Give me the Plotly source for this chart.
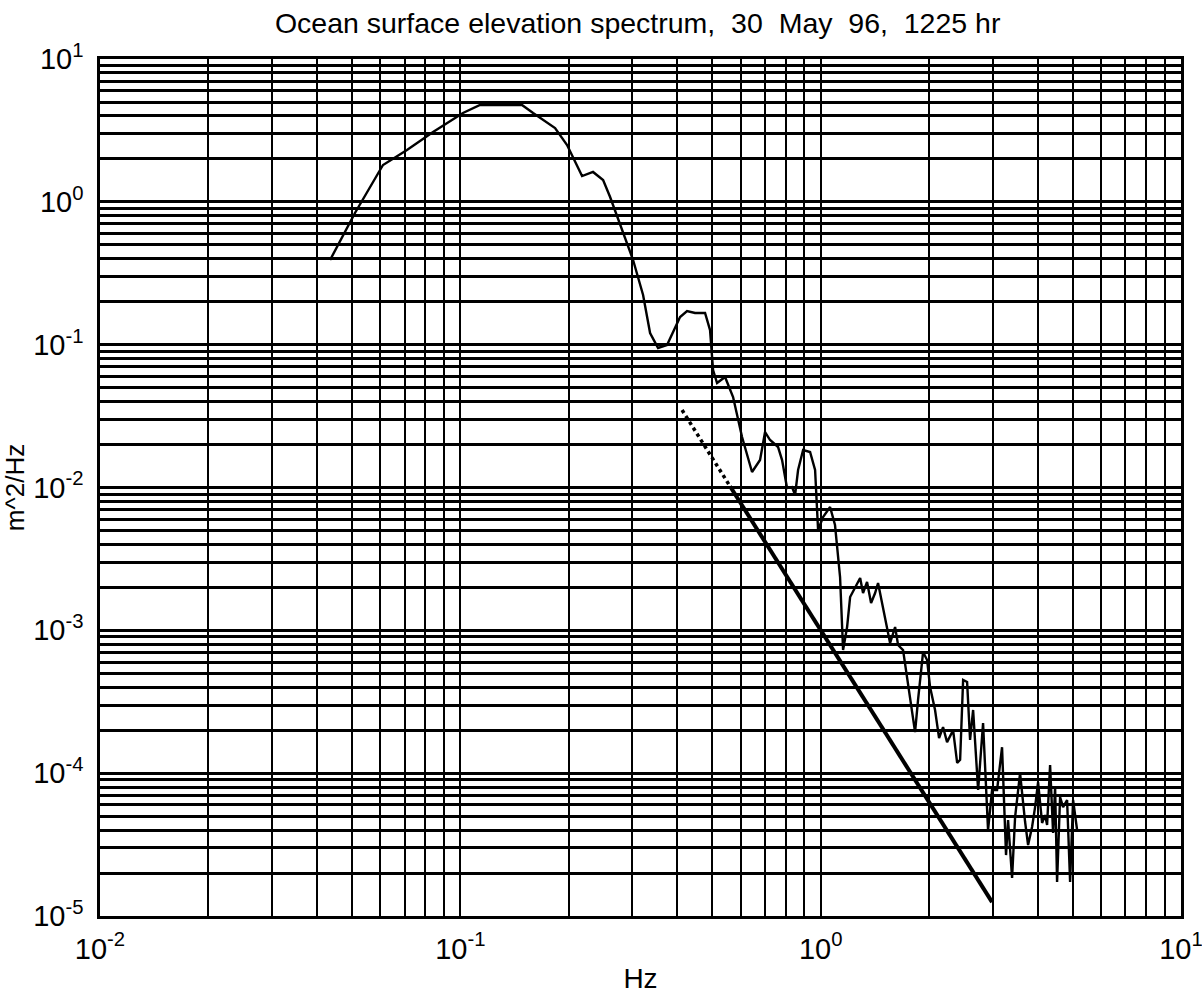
import plotly.graph_objects as go

# Measured surface elevation spectrum (frequency in Hz, density in m^2/Hz)
freq_hz = [
    0.0435, 0.0510, 0.0610, 0.0711, 0.0840, 0.1017, 0.1134, 0.1483, 0.1592, 0.1832,
    0.1978, 0.2055, 0.2177, 0.2335, 0.2490, 0.2604, 0.3016, 0.3215, 0.3362, 0.3538,
    0.3747, 0.4072, 0.4258, 0.4481, 0.4777, 0.4932, 0.5028, 0.5158, 0.5428, 0.5714,
    0.6051, 0.6450, 0.6788, 0.7009, 0.7237, 0.7617, 0.7814, 0.8067, 0.8329, 0.8492,
    0.8656, 0.8938, 0.9346, 0.9650, 0.9836, 1.0155, 1.062, 1.096, 1.132, 1.154,
    1.184, 1.207, 1.287, 1.311, 1.345, 1.380, 1.416, 1.443, 1.481, 1.558,
    1.609, 1.640, 1.693, 1.770, 1.828, 1.863, 1.924, 1.974, 2.012, 2.077,
    2.131, 2.186, 2.243, 2.331, 2.392, 2.438, 2.485, 2.549, 2.598, 2.649,
    2.735, 2.823, 2.914, 2.990, 3.087, 3.187, 3.269, 3.312, 3.398, 3.464,
    3.576, 3.693, 3.764, 3.861, 3.936, 4.012, 4.116, 4.196, 4.250, 4.332,
    4.416, 4.473, 4.530, 4.618, 4.707, 4.829, 4.923, 5.018, 5.148,
]
spectrum = [
    0.3915, 0.835, 1.811, 2.306, 3.083, 4.186, 4.764, 4.764, 4.186, 3.287,
    2.500, 2.027, 1.516, 1.618, 1.422, 1.081, 0.3915, 0.2227, 0.1207, 0.0948,
    0.0995, 0.1562, 0.1721, 0.1666, 0.1666, 0.1266, 0.06646, 0.0539, 0.0594, 0.0430,
    0.02257, 0.01284, 0.01557, 0.02446, 0.0215, 0.0192, 0.01557, 0.00992, 0.01008, 0.00886,
    0.01326, 0.0183, 0.01772, 0.01326, 0.00504, 0.00622, 0.0073, 0.00546, 0.002362, 0.000728,
    0.001055, 0.001711, 0.002324, 0.001825, 0.002179, 0.001553, 0.001825, 0.002144, 0.001553, 0.000815,
    0.001055, 0.000789, 0.000728, 0.000341, 0.000194, 0.000325, 0.000705, 0.00062, 0.000401, 0.000277,
    0.000176, 0.00021, 0.000165, 0.0002, 0.000118, 0.000124, 0.000449, 0.000435, 0.000171, 0.000277,
    7.62e-5, 0.000224, 4.0e-5, 7.62e-5, 7.62e-5, 0.000152, 2.67e-5, 4.7e-5, 1.85e-5, 4.93e-5,
    1.0e-4, 4.55e-5, 3.14e-5, 4.2e-5, 5.79e-5, 8.67e-5, 4.48e-5, 5.09e-5, 4.34e-5, 0.000114,
    3.81e-5, 8.0e-5, 1.73e-5, 6.81e-5, 5.79e-5, 6.49e-5, 1.73e-5, 6.49e-5, 4.0e-5,
]

# f^-4 reference line: dotted part, then solid part
ref_dotted_hz = [0.4124, 0.5604]
ref_dotted_val = [0.03487, 0.0102]
ref_solid_hz = [0.5604, 2.990]
ref_solid_val = [0.0102, 1.252e-5]

# Axis decades: labelled powers of ten, with minor grid at 2..9 multiples
x_decades = [-2, -1, 0, 1]
y_decades = [-5, -4, -3, -2, -1, 0, 1]
minor_multiples = [2, 3, 4, 5, 6, 7, 8, 9]


def decade_ticks(decades):
    vals = [10.0 ** d for d in decades]
    text = [f"10<sup>{d}</sup>" for d in decades]
    minor = [m * 10.0 ** d for d in decades[:-1] for m in minor_multiples]
    return vals, text, minor


x_tickvals, x_ticktext, x_minor = decade_ticks(x_decades)
y_tickvals, y_ticktext, y_minor = decade_ticks(y_decades)

fig = go.Figure()
fig.add_trace(go.Scatter(
    x=freq_hz, y=spectrum, mode="lines",
    line=dict(color="black", width=2.4),
))
fig.add_trace(go.Scatter(
    x=ref_dotted_hz, y=ref_dotted_val, mode="lines",
    line=dict(color="black", width=3.5, dash="dot"),
))
fig.add_trace(go.Scatter(
    x=ref_solid_hz, y=ref_solid_val, mode="lines",
    line=dict(color="black", width=4),
))

font_family = "Liberation Sans, Arial, sans-serif"

fig.update_layout(
    width=1202, height=996, autosize=False,
    margin=dict(l=100, r=21, t=59, b=80),
    paper_bgcolor="white", plot_bgcolor="white",
    showlegend=False,
    font=dict(family=font_family, color="black", size=28),
    title=dict(
        text="Ocean surface elevation spectrum,\u00a0\u00a030\u00a0\u00a0May\u00a0\u00a096,\u00a0\u00a01225 hr",
        x=0.5305, xanchor="center", y=0.977, yanchor="middle",
        font=dict(size=28.5, family=font_family, color="black"),
    ),
)

fig.update_xaxes(
    type="log", range=[-2, 1], automargin=False,
    tickmode="array", tickvals=x_tickvals, ticktext=x_ticktext,
    ticks="", showgrid=True, gridcolor="black", gridwidth=2,
    minor=dict(tickmode="array", tickvals=x_minor, showgrid=True,
               gridcolor="black", gridwidth=2, ticks=""),
    showline=True, mirror=True, linecolor="black", linewidth=2.5,
    tickfont=dict(size=29), ticklabelstandoff=5, ticklabeloverflow="allow",
    title=dict(text="Hz", font=dict(size=28), standoff=5),
)
fig.update_yaxes(
    type="log", range=[-5, 1], automargin=False,
    tickmode="array", tickvals=y_tickvals, ticktext=y_ticktext,
    ticks="", showgrid=True, gridcolor="black", gridwidth=2.5,
    minor=dict(tickmode="array", tickvals=y_minor, showgrid=True,
               gridcolor="black", gridwidth=2.5, ticks=""),
    showline=True, mirror=True, linecolor="black", linewidth=2.5,
    tickfont=dict(size=29), ticklabelstandoff=8, ticklabeloverflow="allow",
    title=dict(text="m^2/Hz", font=dict(size=26), standoff=4),
)

fig.write_html("out.html")
